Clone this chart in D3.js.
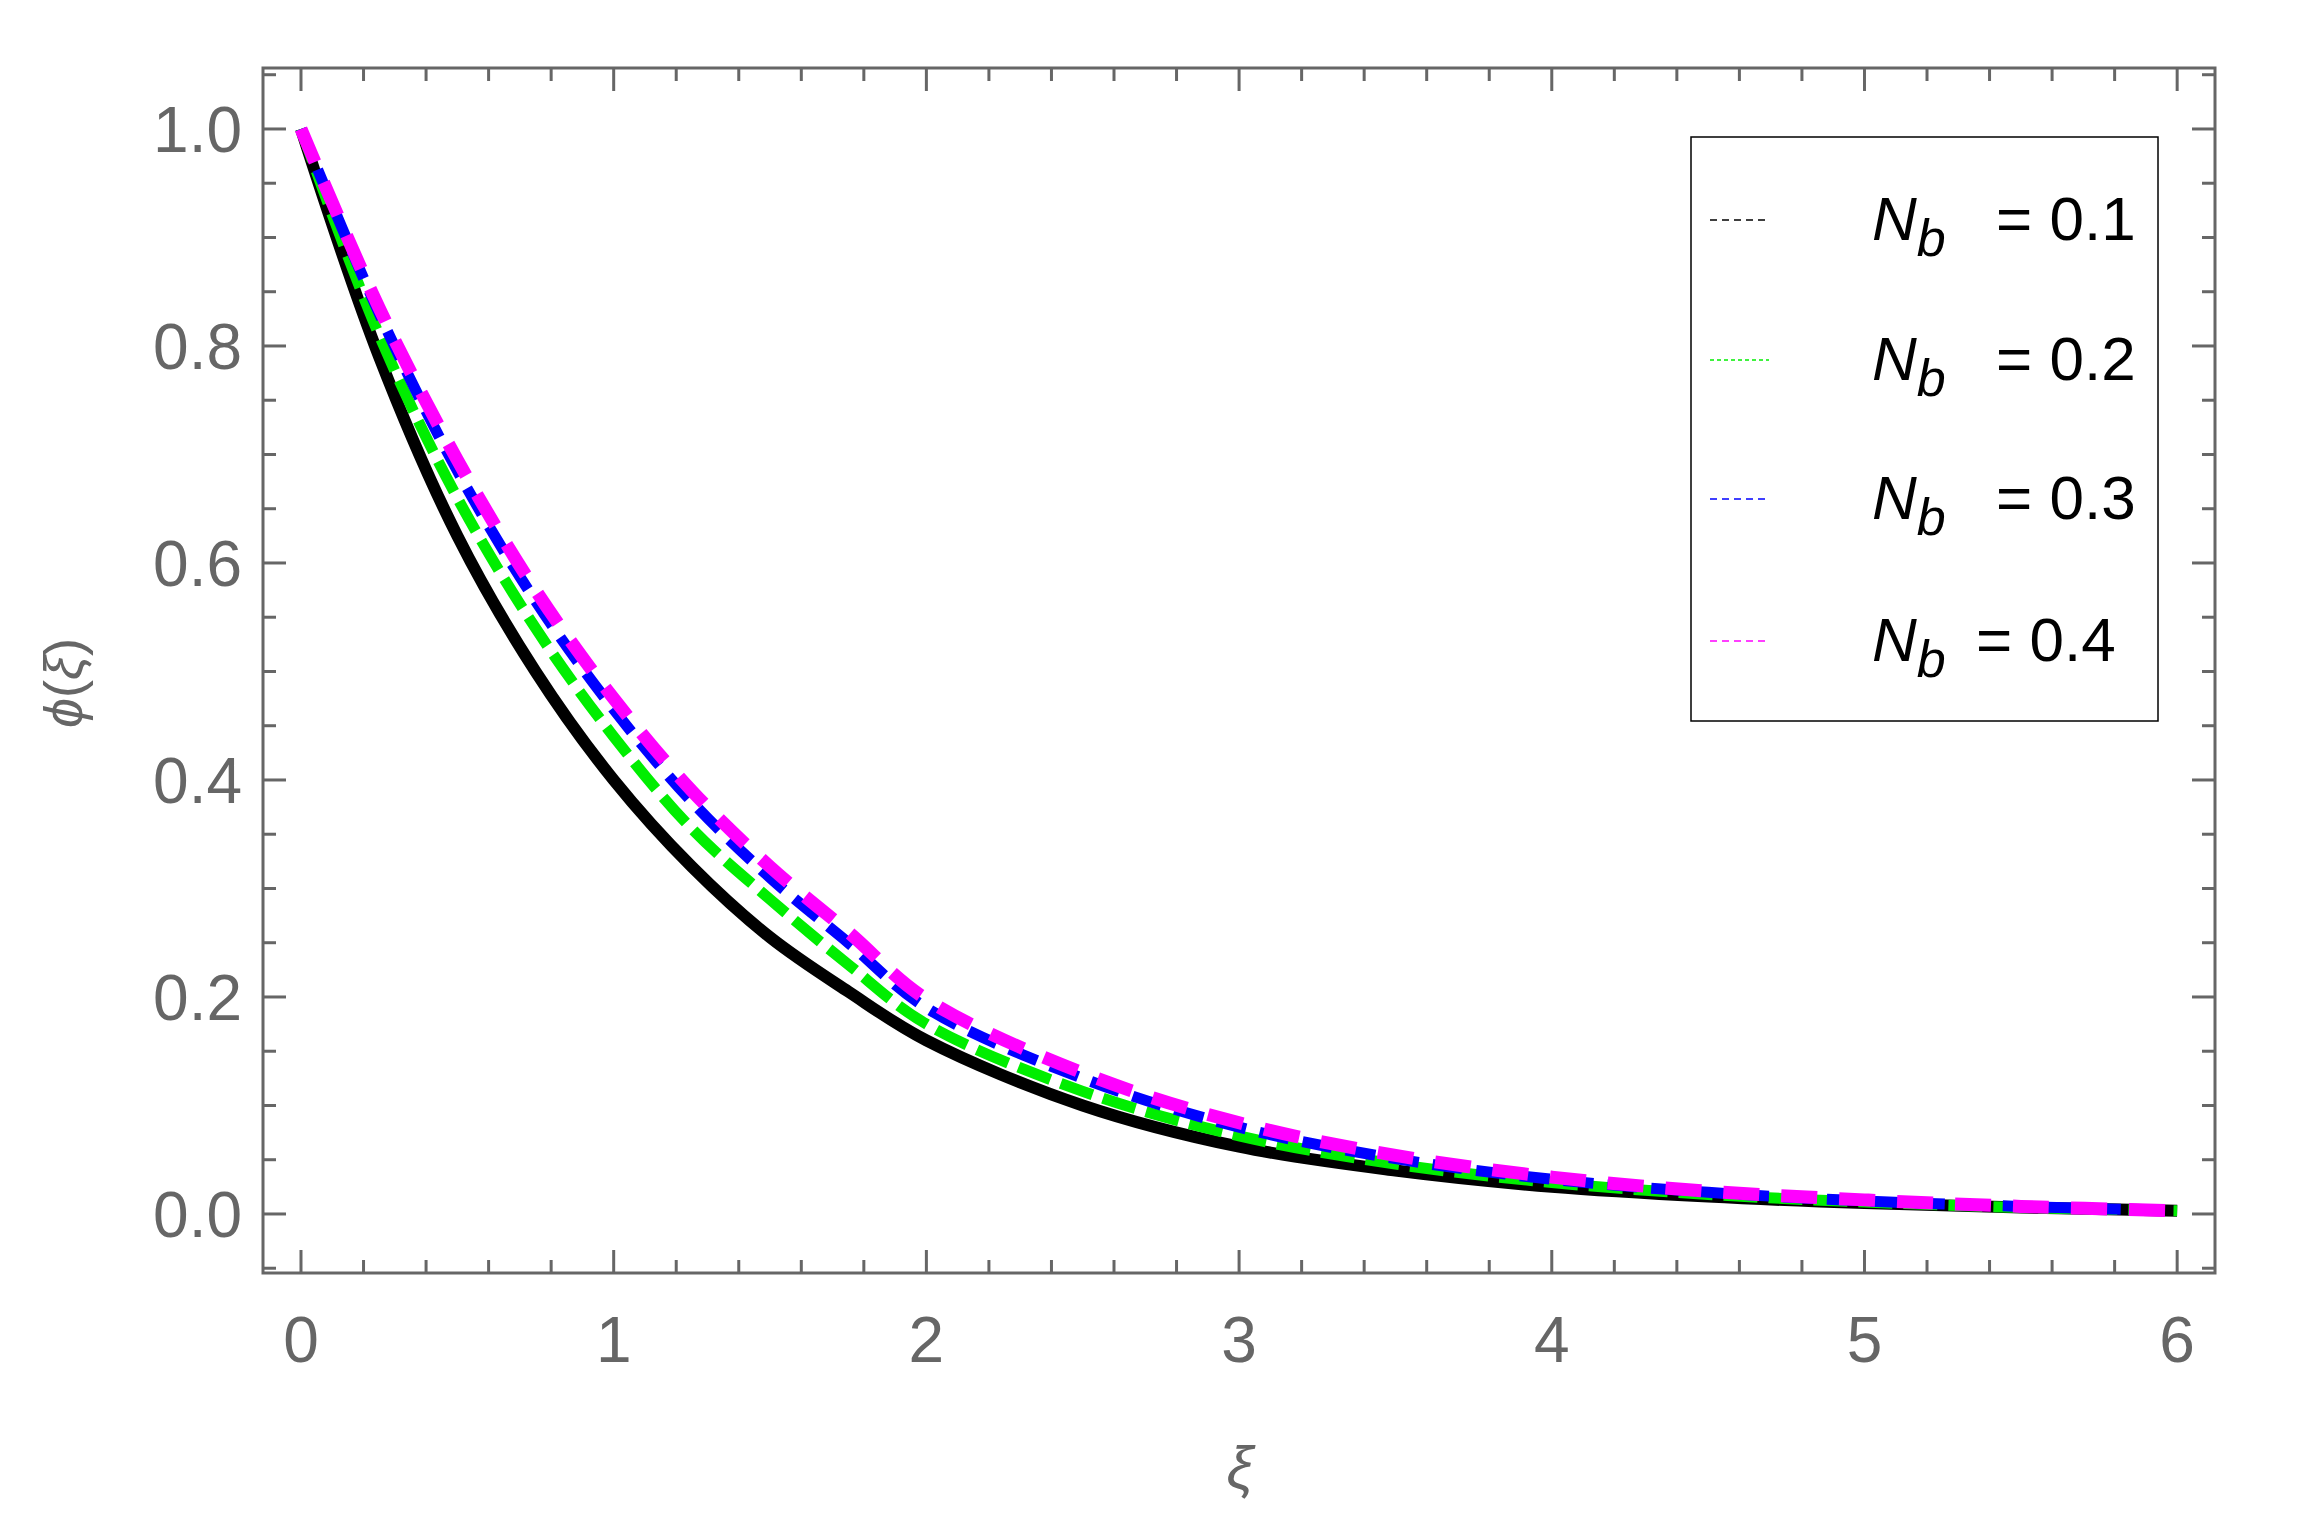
<!DOCTYPE html>
<html><head><meta charset="utf-8">
<script src="https://cdn.jsdelivr.net/npm/d3@7/dist/d3.min.js"></script>
<style>body{margin:0;background:#fff}</style></head>
<body><svg id="c" width="2302" height="1533"></svg>
<script>
const xs = [0,0.25,0.5,0.75,1,1.25,1.5,1.75,2,2.5,3,3.5,4,4.5,5,5.5,6];
const nb1 = [1,0.79,0.625,0.50,0.40,0.32,0.255,0.205,0.160,0.100,0.062,0.040,0.025,0.016,0.010,0.006,0.003];
const nb2 = [1,0.81,0.66,0.54,0.44,0.355,0.29,0.23,0.175,0.113,0.072,0.046,0.029,0.018,0.011,0.006,0.003];
const nb3 = [1,0.83,0.685,0.565,0.465,0.38,0.31,0.25,0.19,0.125,0.08,0.051,0.032,0.02,0.012,0.007,0.003];
const nb4 = [1,0.835,0.695,0.575,0.475,0.39,0.32,0.26,0.198,0.13,0.084,0.054,0.034,0.021,0.013,0.007,0.003];
const labels = ["0.1","0.2","0.3","0.4"];
const xTicks = [0,1,2,3,4,5,6];
const yTicks = [0,0.2,0.4,0.6,0.8,1.0];

const svg = d3.select("#c");
const L=263,R=2215,T=68,B=1273;
const x = d3.scaleLinear().domain([-0.1215,6.121]).range([L,R]);
const y = d3.scaleLinear().domain([-0.0544,1.0562]).range([B,T]);
const gray="#666";

const styles=[
 {d:nb1,c:"#000",w:12,dash:null},
 {d:nb2,c:"#00ee00",w:11,dash:"34,11"},
 {d:nb3,c:"#0000ff",w:11,dash:"30,14"},
 {d:nb4,c:"#ff00ff",w:13,dash:"36,22"}
];
const line=d3.line().x(d=>x(d[0])).y(d=>y(d[1])).curve(d3.curveCatmullRom.alpha(0.5));
svg.append("clipPath").attr("id","cp").append("rect").attr("x",L).attr("y",T).attr("width",R-L).attr("height",B-T);
const g=svg.append("g").attr("clip-path","url(#cp)");
styles.forEach(s=>{
  g.append("path").attr("d",line(xs.map((v,i)=>[v,s.d[i]]))).attr("fill","none")
   .attr("stroke",s.c).attr("stroke-width",s.w).attr("stroke-dasharray",s.dash);
});

svg.append("rect").attr("x",L).attr("y",T).attr("width",R-L).attr("height",B-T)
  .attr("fill","none").attr("stroke",gray).attr("stroke-width",3);

const tk=svg.append("g").attr("stroke",gray).attr("stroke-width",3);
d3.range(0,6.001,0.2).forEach(v=>{
  const maj=Math.abs(v-Math.round(v))<1e-6, len=maj?23:13;
  tk.append("line").attr("x1",x(v)).attr("x2",x(v)).attr("y1",B).attr("y2",B-len);
  tk.append("line").attr("x1",x(v)).attr("x2",x(v)).attr("y1",T).attr("y2",T+len);
});
d3.range(-0.05,1.051,0.05).forEach(v=>{
  const maj=Math.abs(v*5-Math.round(v*5))<1e-6, len=maj?23:13;
  tk.append("line").attr("y1",y(v)).attr("y2",y(v)).attr("x1",L).attr("x2",L+len);
  tk.append("line").attr("y1",y(v)).attr("y2",y(v)).attr("x1",R).attr("x2",R-len);
});
const font="'Liberation Sans', Arial, sans-serif";
svg.selectAll(".xt").data(xTicks).enter().append("text").attr("x",d=>x(d)).attr("y",1362)
  .attr("text-anchor","middle").attr("font-family",font).attr("font-size",64).attr("fill",gray).text(d=>d);
svg.selectAll(".yt").data(yTicks).enter().append("text").attr("x",242).attr("y",d=>y(d)+23)
  .attr("text-anchor","end").attr("font-family",font).attr("font-size",64).attr("fill",gray).text(d=>d.toFixed(1));
svg.append("text").attr("x",1240).attr("y",1488).attr("text-anchor","middle").attr("font-family",font)
  .attr("font-style","italic").attr("font-size",60).attr("fill",gray).text("ξ");
svg.append("text").attr("transform","translate(82,683) rotate(-90)").attr("text-anchor","middle").attr("font-family",font)
  .attr("font-size",54).attr("fill",gray).html("<tspan font-style='italic'>ϕ</tspan>(<tspan font-style='italic'>ξ</tspan>)");

svg.append("rect").attr("x",1691).attr("y",137).attr("width",467).attr("height",584)
  .attr("fill","#fff").attr("stroke","#000").attr("stroke-width",1.5);
const ly=[220,360,499,641];
styles.forEach((s,i)=>{
  svg.append("line").attr("x1",1710).attr("x2",1769).attr("y1",ly[i]).attr("y2",ly[i])
   .attr("stroke",s.c).attr("stroke-width",1.5).attr("stroke-dasharray",i==1?"4,3":"7,5");
  const t=svg.append("text").attr("x",1872).attr("y",ly[i]+20).attr("font-family",font).attr("font-size",62).attr("fill","#000");
  t.append("tspan").attr("font-style","italic").text("N");
  t.append("tspan").attr("font-style","italic").attr("font-size",52).attr("dy",16).text("b");
  t.append("tspan").attr("dy",-16).attr("x",i==3?1976:1996).text("= "+labels[i]);
});
</script></body></html>
